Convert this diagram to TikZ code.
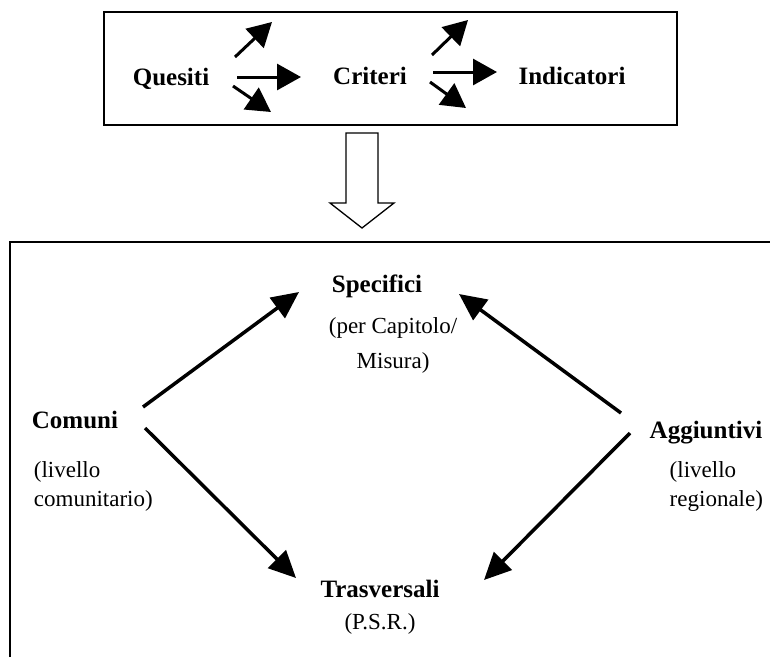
\documentclass[tikz,border=0pt]{standalone}
\usepackage{fontspec}
\setmainfont{Liberation Serif}
\usetikzlibrary{arrows.meta,positioning}

\begin{document}
\begin{tikzpicture}[x=1pt, y=-1pt, inner sep=0pt, node distance=30pt,
    head node/.style={font=\bfseries\fontsize{25}{29}\selectfont, anchor=base},
    note node/.style={font=\fontsize{23}{29}\selectfont, align=left},
    fan/.style={-{Triangle[length=24pt,width=26pt]}, line width=3pt},
    link/.style={-{Triangle[length=27pt,width=25pt]}, line width=3.5pt}]

    \useasboundingbox (0,0) rectangle (770,657);

    % upper box: Quesiti -> Criteri -> Indicatori
    \draw[line width=1.5pt] (104,12) rectangle (677,125);
    \node[head node] (quesiti) at (171,85) {Quesiti};
    \node[head node] (criteri) at (370,84) {Criteri};
    \node[head node] (indicatori) at (572,84) {Indicatori};

    \coordinate (q-up) at (235,57);
    \coordinate (q-up-tip) at (272,22);
    \coordinate (q-mid) at (237,77);
    \coordinate (q-mid-tip) at (301,77);
    \coordinate (q-down) at (233,86);
    \coordinate (q-down-tip) at (271,112);
    \draw[fan] (q-up) -- (q-up-tip);
    \draw[fan] (q-mid) -- (q-mid-tip);
    \draw[fan] (q-down) -- (q-down-tip);

    \coordinate (c-up) at (432,55);
    \coordinate (c-up-tip) at (468,20);
    \coordinate (c-mid) at (433,72);
    \coordinate (c-mid-tip) at (497,72);
    \coordinate (c-down) at (430,82);
    \coordinate (c-down-tip) at (466,108);
    \draw[fan] (c-up) -- (c-up-tip);
    \draw[fan] (c-mid) -- (c-mid-tip);
    \draw[fan] (c-down) -- (c-down-tip);

    % hollow arrow down to the lower box
    \draw[line width=1.3pt, fill=white] (346,133) -- (378,133) -- (378,203) -- (394,203)
        -- (362,228) -- (330,203) -- (346,203) -- cycle;

    % lower box, open to the right and below
    \draw[line width=2pt] (10,657) -- (10,242) -- (770,242);

    \node[head node] (specifici) at (377,292) {Specifici};
    \node[note node, align=center, font=\fontsize{23}{35}\selectfont,
        below right=20pt and -3pt of specifici.south west, anchor=north west] (specifici-note) {(per Capitolo/\\Misura)};

    \node[head node] (comuni) at (75,428) {Comuni};
    \node[note node, below right=33pt and 2pt of comuni.base west] (comuni-note) {(livello\\comunitario)};

    \node[head node] (aggiuntivi) at (706,438) {Aggiuntivi};
    \node[note node, below right=23pt and 20pt of aggiuntivi.base west] (aggiuntivi-note) {(livello\\regionale)};

    \node[head node] (trasversali) at (380,597) {Trasversali};
    \node[note node, below=16pt of trasversali] (trasversali-note) {(P.S.R.)};

    % links between the four kinds
    \coordinate (c-top) at (143,407);
    \coordinate (s-left) at (299,292);
    \coordinate (a-top) at (621,413);
    \coordinate (s-right) at (459,294);
    \coordinate (c-bottom) at (145,428);
    \coordinate (t-left) at (296,578);
    \coordinate (a-bottom) at (630,433);
    \coordinate (t-right) at (484,580);
    \draw[link] (c-top) -- (s-left);
    \draw[link] (a-top) -- (s-right);
    \draw[link] (c-bottom) -- (t-left);
    \draw[link] (a-bottom) -- (t-right);

\end{tikzpicture}
\end{document}
